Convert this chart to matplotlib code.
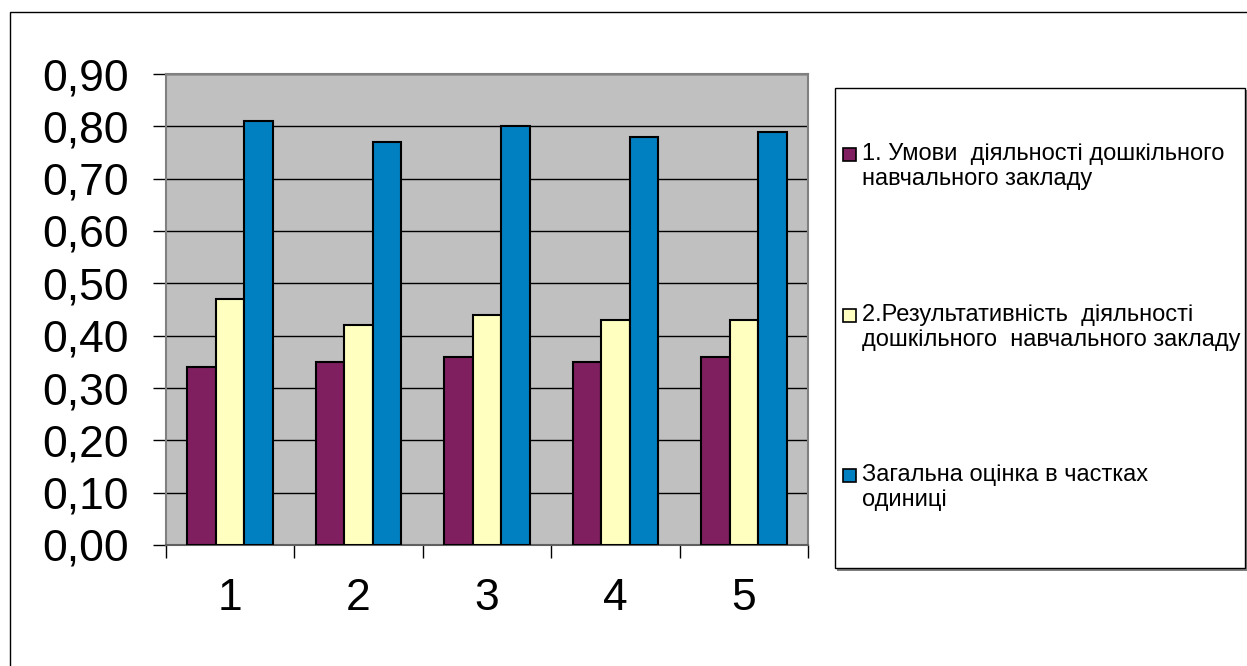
import matplotlib

matplotlib.use("Agg")
import matplotlib.pyplot as plt
from matplotlib.patches import Rectangle
from matplotlib.ticker import FuncFormatter, MultipleLocator
import numpy as np

categories = ["1", "2", "3", "4", "5"]
series_names = [
    "1. Умови  діяльності дошкільного\nнавчального закладу",
    "2.Результативність  діяльності\nдошкільного  навчального закладу",
    "Загальна оцінка в частках\nодиниці",
]
conditions = [0.34, 0.35, 0.36, 0.35, 0.36]
effectiveness = [0.47, 0.42, 0.44, 0.43, 0.43]
overall = [0.81, 0.77, 0.80, 0.78, 0.79]
colors = ["#7F1F5F", "#FFFFC0", "#0080C0"]

plt.rcParams["font.family"] = ["Liberation Sans", "DejaVu Sans"]

W, H = 1247, 666
fig = plt.figure(figsize=(W / 100, H / 100), dpi=100)


def fx(px):
    return px / W


def fy(py):
    return 1 - py / H


# outer chart frame
fig.patches.append(Rectangle((fx(10), fy(700)), fx(1300), fy(12) - fy(700),
                             transform=fig.transFigure, fill=False,
                             edgecolor="black", linewidth=1.0))

ax = fig.add_axes([fx(166), fy(545), fx(808) - fx(166), fy(74) - fy(545)])
ax.set_facecolor("#C0C0C0")

x = np.arange(len(categories))
width = 1 / 4.5
for i, vals in enumerate([conditions, effectiveness, overall]):
    ax.bar(x + (i - 1) * width, vals, width, color=colors[i],
           edgecolor="black", linewidth=1.5, zorder=3)

ax.set_xlim(-0.5, len(categories) - 0.5)
ax.set_ylim(0, 0.9)
ax.yaxis.set_major_locator(MultipleLocator(0.1))
ax.yaxis.set_major_formatter(FuncFormatter(lambda v, _: f"{v:.2f}".replace(".", ",")))
ax.grid(axis="y", color="black", linewidth=1.0, zorder=1)

ax.set_xticks(x)
ax.set_xticklabels(categories)
ax.set_xticks(np.arange(len(categories) + 1) - 0.5, minor=True)
ax.tick_params(axis="x", which="major", length=0, pad=24, labelsize=32)
ax.tick_params(axis="x", which="minor", length=9, width=1.0, color="black")
ax.tick_params(axis="y", length=9.5, width=1.0, color="black", pad=17, labelsize=32)

for side in ["top", "right", "left", "bottom"]:
    ax.spines[side].set_color("#808080")
    ax.spines[side].set_linewidth(1.5)
ax.spines["bottom"].set_color("#606060")

# legend box with shadow
fig.patches.append(Rectangle((fx(837), fy(571)), fx(1247) - fx(836), fy(90) - fy(571),
                             transform=fig.transFigure, facecolor="#808080",
                             edgecolor="none", zorder=1))
fig.patches.append(Rectangle((fx(835), fy(568)), fx(1245) - fx(835), fy(88) - fy(568),
                             transform=fig.transFigure, facecolor="white",
                             edgecolor="black", linewidth=1.0, zorder=2))

entry_tops = [148, 309, 469]
for name, color, top in zip(series_names, colors, entry_tops):
    fig.patches.append(Rectangle((fx(843), fy(top + 13)), fx(13), fy(top) - fy(top + 13),
                                 transform=fig.transFigure, facecolor=color,
                                 edgecolor="black", linewidth=1.2, zorder=3))
    fig.text(fx(862), fy(top - 5), name, ha="left", va="top", fontsize=17,
             linespacing=1.15, zorder=4)

fig.savefig("out.png", dpi=100)
